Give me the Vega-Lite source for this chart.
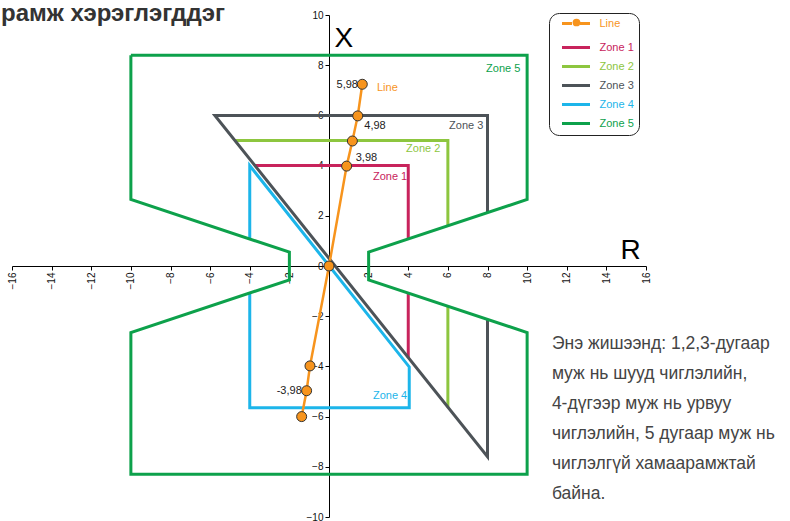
{
  "$schema": "https://vega.github.io/schema/vega-lite/v6.json",
  "width": 634,
  "height": 502,
  "autosize": {"type": "none"},
  "padding": {"left": 12, "top": 15, "right": 144, "bottom": 4},
  "background": "white",
  "title": {
    "text": "рамж хэрэглэгддэг",
    "anchor": "start",
    "frame": "group",
    "fontSize": 24,
    "fontWeight": "bold",
    "color": "#333333",
    "offset": 0,
    "dx": -11,
    "dy": 16
  },
  "datasets": {
    "zones": [
      {"series": "Zone 1", "seg": "z1a", "ord": 1, "x": 4, "y": 1.075},
      {"series": "Zone 1", "seg": "z1a", "ord": 2, "x": 4, "y": 4},
      {"series": "Zone 1", "seg": "z1a", "ord": 3, "x": -3.74, "y": 4},
      {"series": "Zone 1", "seg": "z1b", "ord": 1, "x": 4, "y": -1.075},
      {"series": "Zone 1", "seg": "z1b", "ord": 2, "x": 4, "y": -3.65},
      {"series": "Zone 2", "seg": "z2a", "ord": 1, "x": 6, "y": 1.6},
      {"series": "Zone 2", "seg": "z2a", "ord": 2, "x": 6, "y": 5},
      {"series": "Zone 2", "seg": "z2a", "ord": 3, "x": -4.75, "y": 5},
      {"series": "Zone 2", "seg": "z2b", "ord": 1, "x": 6, "y": -1.6},
      {"series": "Zone 2", "seg": "z2b", "ord": 2, "x": 6, "y": -5.63},
      {"series": "Zone 4", "seg": "z4", "ord": 1, "x": -4, "y": 1.075},
      {"series": "Zone 4", "seg": "z4", "ord": 2, "x": -4, "y": 4},
      {"series": "Zone 4", "seg": "z4", "ord": 3, "x": 4.05, "y": -4.02},
      {"series": "Zone 4", "seg": "z4", "ord": 4, "x": 4.05, "y": -5.65},
      {"series": "Zone 4", "seg": "z4", "ord": 5, "x": -4, "y": -5.65},
      {"series": "Zone 4", "seg": "z4", "ord": 6, "x": -4, "y": -1.075},
      {"series": "Zone 3", "seg": "z3", "ord": 1, "x": 8, "y": 2.125},
      {"series": "Zone 3", "seg": "z3", "ord": 2, "x": 8, "y": 6},
      {"series": "Zone 3", "seg": "z3", "ord": 3, "x": -5.76, "y": 6},
      {"series": "Zone 3", "seg": "z3", "ord": 4, "x": 8, "y": -7.6},
      {"series": "Zone 3", "seg": "z3", "ord": 5, "x": 8, "y": -2.125},
      {"series": "Zone 5", "seg": "z5", "ord": 1, "x": -10, "y": 8.4},
      {"series": "Zone 5", "seg": "z5", "ord": 2, "x": 10, "y": 8.4},
      {"series": "Zone 5", "seg": "z5", "ord": 3, "x": 10, "y": 2.65},
      {"series": "Zone 5", "seg": "z5", "ord": 4, "x": 2, "y": 0.55},
      {"series": "Zone 5", "seg": "z5", "ord": 5, "x": 2, "y": -0.55},
      {"series": "Zone 5", "seg": "z5", "ord": 6, "x": 10, "y": -2.65},
      {"series": "Zone 5", "seg": "z5", "ord": 7, "x": 10, "y": -8.3},
      {"series": "Zone 5", "seg": "z5", "ord": 8, "x": -10, "y": -8.3},
      {"series": "Zone 5", "seg": "z5", "ord": 9, "x": -10, "y": -2.65},
      {"series": "Zone 5", "seg": "z5", "ord": 10, "x": -2, "y": -0.55},
      {"series": "Zone 5", "seg": "z5", "ord": 11, "x": -2, "y": 0.55},
      {"series": "Zone 5", "seg": "z5", "ord": 12, "x": -10, "y": 2.65},
      {"series": "Zone 5", "seg": "z5", "ord": 13, "x": -10, "y": 8.4}
    ],
    "line": [
      {"series": "Line", "ord": 1, "x": -1.38, "y": -6.0},
      {"series": "Line", "ord": 2, "x": -1.13, "y": -4.97},
      {"series": "Line", "ord": 3, "x": -0.96, "y": -3.98},
      {"series": "Line", "ord": 4, "x": 0, "y": 0},
      {"series": "Line", "ord": 5, "x": 0.89, "y": 3.98},
      {"series": "Line", "ord": 6, "x": 1.18, "y": 4.98},
      {"series": "Line", "ord": 7, "x": 1.45, "y": 5.98},
      {"series": "Line", "ord": 8, "x": 1.68, "y": 7.24}
    ],
    "labels": [
      {"series": "Zone 1", "x": 2.22, "y": 3.55, "text": "Zone 1"},
      {"series": "Zone 2", "x": 3.89, "y": 4.66, "text": "Zone 2"},
      {"series": "Zone 3", "x": 6.06, "y": 5.58, "text": "Zone 3"},
      {"series": "Zone 4", "x": 2.22, "y": -5.18, "text": "Zone 4"},
      {"series": "Zone 5", "x": 7.93, "y": 7.85, "text": "Zone 5"},
      {"series": "Line", "x": 2.42, "y": 7.09, "text": "Line"},
      {"series": "value", "x": 1.35, "y": 4.3, "text": "3,98"},
      {"series": "value", "x": 1.78, "y": 5.59, "text": "4,98"},
      {"series": "value", "x": 0.38, "y": 7.2, "text": "5,98"},
      {"series": "value", "x": -2.64, "y": -4.97, "text": "-3,98"}
    ],
    "note": [
      {"x": 11.25, "y": -3.31, "text": ["Энэ жишээнд: 1,2,3-дугаар", "муж нь шууд чиглэлийн,", "4-дүгээр муж нь урвуу", "чиглэлийн, 5 дугаар муж нь", "чиглэлгүй хамаарамжтай", "байна."]}
    ]
  },
  "encoding": {
    "x": {
      "field": "x",
      "type": "quantitative",
      "scale": {"domain": [-16, 16], "nice": false, "zero": false},
      "axis": {
        "title": "R",
        "offset": -251,
        "values": [-16, -14, -12, -10, -8, -6, -4, -2, 2, 4, 6, 8, 10, 12, 14, 16],
        "labelAngle": -90,
        "labelFontSize": 10,
        "labelColor": "#111111",
        "labelPadding": 2,
        "labelOverlap": false,
        "labelFlush": false,
        "tickSize": 4,
        "tickColor": "#000000",
        "domainColor": "#000000",
        "grid": false,
        "titleFontSize": 28,
        "titleFontWeight": "normal",
        "titleColor": "#000000",
        "titleAlign": "left",
        "titleBaseline": "alphabetic",
        "titleAngle": 0,
        "titleX": 608,
        "titleY": -8
      }
    },
    "y": {
      "field": "y",
      "type": "quantitative",
      "scale": {"domain": [-10, 10], "nice": false, "zero": false},
      "axis": {
        "title": "X",
        "offset": -317,
        "values": [-10, -8, -6, -4, -2, 0, 2, 4, 6, 8, 10],
        "labelFontSize": 10,
        "labelColor": "#111111",
        "labelPadding": 2,
        "labelOverlap": false,
        "labelFlush": false,
        "tickSize": 4,
        "tickColor": "#000000",
        "domainColor": "#000000",
        "grid": false,
        "titleFontSize": 28,
        "titleFontWeight": "normal",
        "titleColor": "#000000",
        "titleAlign": "left",
        "titleBaseline": "alphabetic",
        "titleAngle": 0,
        "titleX": 5,
        "titleY": 31
      }
    }
  },
  "layer": [
    {
      "data": {"name": "zones"},
      "mark": {"type": "line", "strokeWidth": 3, "strokeJoin": "miter"},
      "encoding": {
        "color": {
          "field": "series",
          "type": "nominal",
          "scale": {
            "domain": ["Line", "Zone 1", "Zone 2", "Zone 3", "Zone 4", "Zone 5"],
            "range": ["#F7941D", "#C8235C", "#8DC63F", "#4D5358", "#1CB5EA", "#0DA14B"]
          },
          "legend": {
            "title": null,
            "orient": "none",
            "legendX": 537,
            "legendY": -2,
            "symbolType": "M-3.5,0H3.5",
            "symbolSize": 64,
            "symbolStrokeWidth": 3,
            "symbolOffset": 16.5,
            "labelFontSize": 11,
            "labelOffset": 18,
            "labelExpr": "datum.label + '\u00a0\u00a0'",
            "rowPadding": 6,
            "padding": 5,
            "strokeColor": "#222222",
            "cornerRadius": 10,
            "encode": {
              "labels": {"update": {"fill": {"signal": "scale('color', datum.value)"}}},
              "symbols": {
                "update": {
                  "shape": {"signal": "datum.value === 'Line' ? 'M-3.5,0H-1M1,0H3.5M0,-1.3L0,-1.3M0,1.3L0,1.3' : 'M-3.5,0H3.5'"},
                  "fill": {"value": "transparent"}
                }
              }
            }
          }
        },
        "detail": {"field": "seg"},
        "order": {"field": "ord", "type": "quantitative"}
      }
    },
    {
      "data": {"name": "line"},
      "mark": {"type": "line", "strokeWidth": 2.5},
      "encoding": {
        "color": {"field": "series", "type": "nominal"},
        "order": {"field": "ord", "type": "quantitative"}
      }
    },
    {
      "data": {"name": "line"},
      "mark": {"type": "point", "filled": true, "size": 100, "fill": "#F7941D", "stroke": "#333333", "strokeWidth": 1, "opacity": 1},
      "encoding": {
        "shape": {
          "field": "series",
          "type": "nominal",
          "scale": {"domain": ["Line"], "range": ["circle"]},
          "legend": {
            "title": null,
            "orient": "none",
            "legendX": 560,
            "legendY": 3,
            "padding": 0,
            "symbolSize": 60,
            "symbolFillColor": "#F7941D",
            "symbolStrokeColor": "#333333",
            "symbolStrokeWidth": 1,
            "symbolOffset": 0,
            "labelExpr": "''",
            "labelFontSize": 1,
            "labelOffset": 0
          }
        }
      }
    },
    {
      "data": {"name": "labels"},
      "mark": {"type": "text", "align": "left", "baseline": "middle", "fontSize": 11, "font": "Liberation Sans"},
      "encoding": {
        "text": {"field": "text"},
        "fill": {
          "field": "series",
          "type": "nominal",
          "scale": {
            "domain": ["Line", "Zone 1", "Zone 2", "Zone 3", "Zone 4", "Zone 5", "value"],
            "range": ["#F7941D", "#C8235C", "#8DC63F", "#4D5358", "#1CB5EA", "#0DA14B", "#222222"]
          },
          "legend": null
        }
      }
    },
    {
      "data": {"name": "note"},
      "mark": {"type": "text", "align": "left", "baseline": "alphabetic", "fontSize": 17.5, "lineHeight": 30, "fill": "#444444", "font": "Liberation Sans"},
      "encoding": {"text": {"field": "text"}}
    }
  ],
  "config": {
    "view": {"stroke": null},
    "font": "Liberation Sans"
  }
}
